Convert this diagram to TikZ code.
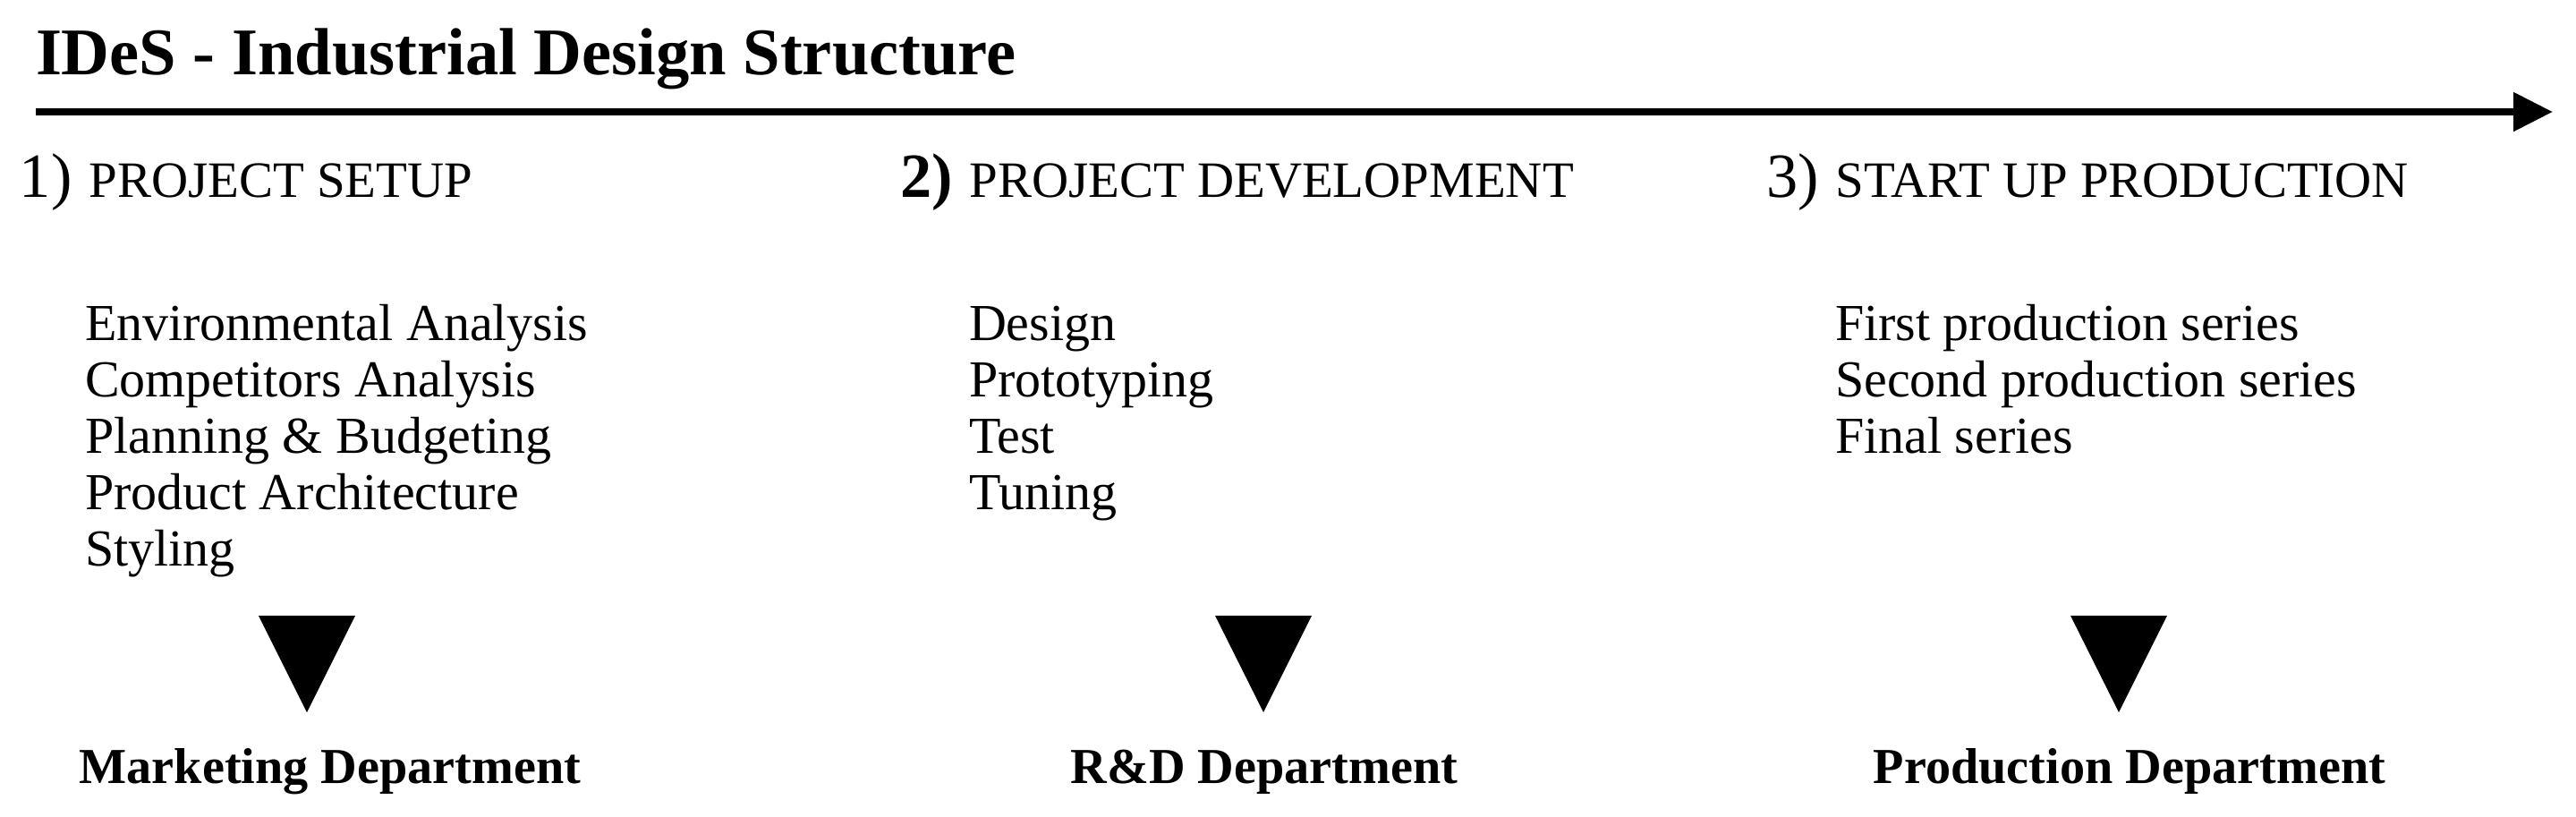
\documentclass[tikz,border=0pt]{standalone}
\usepackage{fontspec}
\setmainfont{Liberation Serif}
\usetikzlibrary{arrows.meta}

\begin{document}
\begin{tikzpicture}[inner sep=0pt, outer sep=0pt,
      phase/.style = {anchor=base west, font=\fontsize{16.2}{18}\selectfont},
      item/.style = {anchor=base west, font=\fontsize{16.5}{18}\selectfont},
      dept/.style = {anchor=base, font=\fontsize{16}{18}\selectfont\bfseries}]
    \useasboundingbox (0,0) rectangle (28.79,-9.12);
    % title and time line
    \node[anchor=base west, font=\fontsize{21.2}{24}\selectfont\bfseries]
      (title) at (0.40,-0.83) {IDeS - Industrial Design Structure};
    \coordinate (start) at (0.40,-1.25);
    \coordinate (end) at (28.53,-1.25);
    \draw[line width=2.4pt, -{Triangle[length=4.4mm, width=4.2mm]}] (start) -- (end);
    % phases
    \node[phase] (setup) at (0.22,-2.20) {{\fontsize{20}{22}\selectfont 1)}\,\,PROJECT SETUP};
    \node[phase] (devel) at (10.06,-2.20) {{\fontsize{20}{22}\selectfont\bfseries 2)}\,\,PROJECT DEVELOPMENT};
    \node[phase] (prod) at (19.74,-2.20) {{\fontsize{20}{22}\selectfont 3)}\,\,START UP PRODUCTION};
    % activities
    \foreach \t [count=\i] in {Environmental Analysis, Competitors Analysis,
        Planning \& Budgeting, Product Architecture, Styling}
      \node[item] (setup\i) at (0.95,-3.80-0.63*\i+0.63) {\t};
    \foreach \t [count=\i] in {Design, Prototyping, Test, Tuning}
      \node[item] (devel\i) at (10.83,-3.80-0.63*\i+0.63) {\t};
    \foreach \t [count=\i] in {First production series, Second production series, Final series}
      \node[item] (prod\i) at (20.51,-3.80-0.63*\i+0.63) {\t};
    % departments
    \foreach \x in {3.43,14.12,23.68}
      \fill (\x-0.54,-6.88) -- (\x+0.54,-6.88) -- (\x,-7.96) -- cycle;
    \node[dept] (mkt) at (3.69,-8.75) {Marketing Department};
    \node[dept] (rd) at (14.13,-8.75) {R\&D Department};
    \node[dept] (pd) at (23.80,-8.75) {Production Department};
  \end{tikzpicture}
\end{document}
